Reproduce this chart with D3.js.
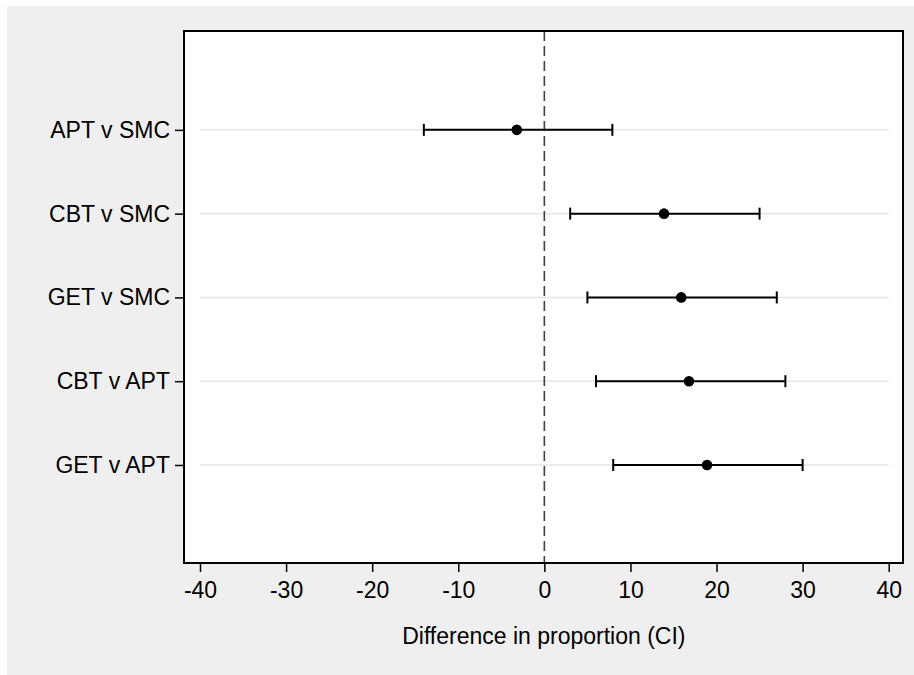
<!DOCTYPE html>
<html>
<head>
<meta charset="utf-8">
<script src="https://cdn.jsdelivr.net/npm/d3@7"></script>
<style>
  html, body { margin: 0; padding: 0; background: #ffffff; }
  svg { display: block; }
  text { font-family: "Liberation Sans", Arial, sans-serif; fill: #000; }
</style>
</head>
<body>
<svg id="chart" width="914" height="675"></svg>
<script>
// ---- data ----
const comparisons = ["APT v SMC", "CBT v SMC", "GET v SMC", "CBT v APT", "GET v APT"];
const estimates   = [-3.2, 13.9, 15.9, 16.8, 18.9];
const lowerCI     = [-14, 3, 5, 6, 8];
const upperCI     = [7.9, 25, 27, 28, 30];
const xTicks      = [-40, -30, -20, -10, 0, 10, 20, 30, 40];
const xTitle      = "Difference in proportion (CI)";

// ---- layout ----
const W = 914, H = 675;
const frame = { left: 184, right: 903, top: 31, bottom: 563 };
const svg = d3.select("#chart");

// outer grey panel
svg.append("rect").attr("x", 7).attr("y", 6).attr("width", W - 7).attr("height", H - 6)
  .attr("fill", "#efefef");
// plot area
svg.append("rect").attr("x", frame.left).attr("y", frame.top)
  .attr("width", frame.right - frame.left).attr("height", frame.bottom - frame.top)
  .attr("fill", "#ffffff");

// scales
const x = d3.scaleLinear().domain([-40, 40]).range([200, 888.7]);
const y = d3.scaleLinear().domain([-1.18, comparisons.length - 1 + 1.17])
  .range([frame.top, frame.bottom]);
const yPos = i => y(i);

// grid lines
svg.append("g").selectAll("line").data(comparisons).join("line")
  .attr("x1", x(-40)).attr("x2", x(40))
  .attr("y1", (d, i) => yPos(i)).attr("y2", (d, i) => yPos(i))
  .attr("stroke", "#e6e6e6").attr("stroke-width", 1.5);

// zero reference line
svg.append("line").attr("x1", x(0)).attr("x2", x(0))
  .attr("y1", frame.top).attr("y2", frame.bottom)
  .attr("stroke", "#404040").attr("stroke-width", 1.6)
  .attr("stroke-dasharray", "10,5");

// error bars
const rows = comparisons.map((c, i) => ({ c, i, est: estimates[i], lo: lowerCI[i], hi: upperCI[i] }));
const g = svg.append("g");
g.selectAll("line.ci").data(rows).join("line").attr("class", "ci")
  .attr("x1", d => x(d.lo)).attr("x2", d => x(d.hi))
  .attr("y1", d => yPos(d.i)).attr("y2", d => yPos(d.i))
  .attr("stroke", "#000").attr("stroke-width", 2);
g.selectAll("line.caplo").data(rows).join("line").attr("class", "caplo")
  .attr("x1", d => x(d.lo)).attr("x2", d => x(d.lo))
  .attr("y1", d => yPos(d.i) - 6).attr("y2", d => yPos(d.i) + 6)
  .attr("stroke", "#000").attr("stroke-width", 2);
g.selectAll("line.caphi").data(rows).join("line").attr("class", "caphi")
  .attr("x1", d => x(d.hi)).attr("x2", d => x(d.hi))
  .attr("y1", d => yPos(d.i) - 6).attr("y2", d => yPos(d.i) + 6)
  .attr("stroke", "#000").attr("stroke-width", 2);
g.selectAll("circle").data(rows).join("circle")
  .attr("cx", d => x(d.est)).attr("cy", d => yPos(d.i)).attr("r", 5.3)
  .attr("fill", "#000");

// frame
svg.append("rect").attr("x", frame.left).attr("y", frame.top)
  .attr("width", frame.right - frame.left).attr("height", frame.bottom - frame.top)
  .attr("fill", "none").attr("stroke", "#000").attr("stroke-width", 2);

// x axis
const xAxis = d3.axisBottom(x).tickValues(xTicks).tickSize(9).tickPadding(10)
  .tickFormat(d3.format("d"));
const xg = svg.append("g").attr("transform", `translate(0,${frame.bottom})`).call(xAxis);
xg.select(".domain").remove();
xg.selectAll(".tick line").attr("stroke", "#000").attr("stroke-width", 1.5);
xg.selectAll(".tick text").attr("font-size", "23px")
  .attr("font-family", "'Liberation Sans', Arial, sans-serif").attr("fill", "#000")
  .text(d => d < 0 ? "-" + Math.abs(d) : String(d));

// y axis
const yAxis = d3.axisLeft(d3.scalePoint().domain(comparisons)
    .range([yPos(0), yPos(comparisons.length - 1)]))
  .tickSize(9).tickPadding(5);
const yg = svg.append("g").attr("transform", `translate(${frame.left},0)`).call(yAxis);
yg.select(".domain").remove();
yg.selectAll(".tick line").attr("stroke", "#000").attr("stroke-width", 1.5);
yg.selectAll(".tick text").attr("font-size", "23px")
  .attr("font-family", "'Liberation Sans', Arial, sans-serif").attr("fill", "#000");

// x title
svg.append("text").attr("x", (401.7 + 686) / 2).attr("y", 644)
  .attr("text-anchor", "middle").attr("font-size", "23px").text(xTitle);
</script>
</body>
</html>
